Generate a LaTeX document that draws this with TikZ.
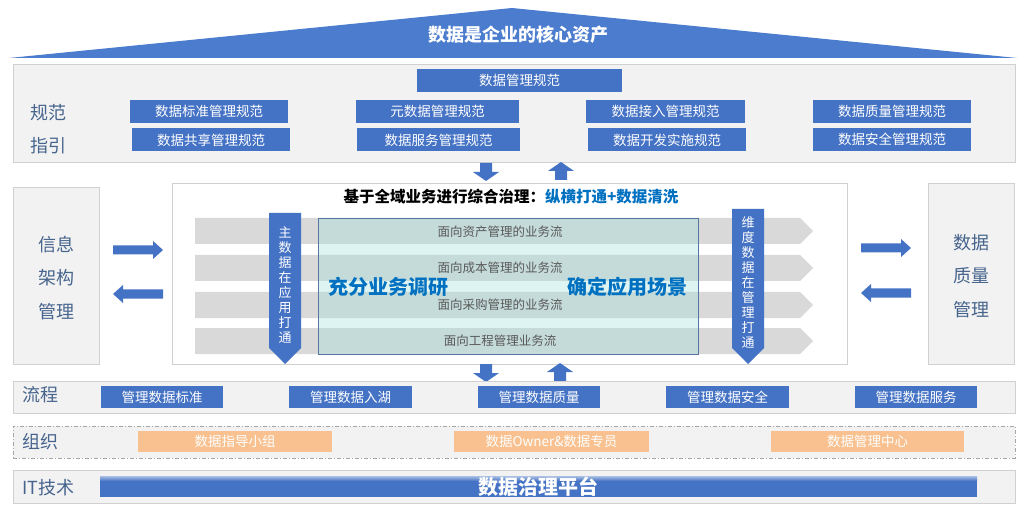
\documentclass[tikz,border=0pt]{standalone}
\usepackage{fontspec}
\setmainfont{Noto Sans CJK SC}
\usetikzlibrary{positioning,calc}

\definecolor{boxblue}{RGB}{68,114,196}
\definecolor{roofblue}{RGB}{75,124,206}
\definecolor{panelgray}{RGB}{242,242,242}
\definecolor{panelline}{RGB}{208,208,208}
\definecolor{lblblue}{RGB}{70,100,140}
\definecolor{orangebox}{RGB}{248,193,143}
\definecolor{titleblue}{RGB}{0,112,192}
\definecolor{flowgray}{RGB}{217,217,217}
\definecolor{flowtext}{RGB}{89,89,89}
\definecolor{tealfill}{RGB}{159,223,217}
\definecolor{tealline}{RGB}{84,118,160}

\tikzset{panel/.style={ % Gray bands and side boxes
            draw=panelline, line width=0.8pt,
            fill=panelgray},
        bluebox/.style={ % Blue rule and process boxes
            fill=boxblue, text=white, inner sep=0pt,
            minimum height=23,
            font=\fontsize{13.5}{16}\selectfont},
        orangebox/.style={ % Organisation boxes
            fill=orangebox, text=white, inner sep=0pt,
            minimum height=21,
            font=\fontsize{13.5}{16}\selectfont},
        lbl/.style={ % Row titles
            text=lblblue, inner sep=0pt,
            font=\fontsize{18}{33.5}\selectfont},
        flowlabel/.style={ % Text on the gray flows
            text=flowtext, inner sep=0pt,
            font=\fontsize{12.5}{15}\selectfont},
        bigblue/.style={ % Bold blue words over the flows
            text=titleblue, inner sep=0pt,
            font=\bfseries\fontsize{20}{24}\selectfont},
        vtext/.style={ % Text inside the vertical arrows
            text=white, inner sep=0pt, align=center,
            font=\fontsize{13}{15}\selectfont},
        sidearrow/.pic={ % Arrows between side boxes and centre
            \fill[boxblue] (-25,-4.5) -- (15,-4.5) -- (15,-9) -- (25,0)
                -- (15,9) -- (15,4.5) -- (-25,4.5) -- cycle;},
        stackarrow/.pic={ % Short arrows between the layers
            \fill[boxblue] (-9,-6) -- (0,-6) -- (0,-13) -- (9,0)
                -- (0,13) -- (0,6) -- (-9,6) -- cycle;}
        }

\begin{document}
\begin{tikzpicture}[x=1pt, y=-1pt]
    \useasboundingbox (0,0) rectangle (1024,510);

    % roof
    \fill[roofblue] (9,58) -- (512,8) -- (1017,58) -- cycle;
    \node[text=white, font=\bfseries\fontsize{18}{22}\selectfont] (roof) at (518,35) {数据是企业的核心资产};

    % rules
    \node[panel, minimum width=1002, minimum height=98] (rules) at (514,113) {};
    \node[lbl, align=center] (rulelbl) at (48,129) {规范\\指引};
    \node[bluebox, minimum width=205] (r0) at (519.5,80.5) {数据管理规范};
    \node[bluebox, minimum width=158] (r1) at (209,111.5) {数据标准管理规范};
    \node[bluebox, minimum width=158] (r2) at (211,140)   {数据共享管理规范};
    \node[bluebox, minimum width=163] (r3) at (437.5,111.5) {元数据管理规范};
    \node[bluebox, minimum width=163] (r4) at (438.5,140)   {数据服务管理规范};
    \node[bluebox, minimum width=159] (r5) at (665.5,111.5) {数据接入管理规范};
    \node[bluebox, minimum width=158] (r6) at (667,140)     {数据开发实施规范};
    \node[bluebox, minimum width=158] (r7) at (892,111.5)   {数据质量管理规范};
    \node[bluebox, minimum width=158] (r8) at (892,139.5)   {数据安全管理规范};

    \pic[rotate=-90] at (486,172) {stackarrow};
    \pic[rotate=90]  at (561,171) {stackarrow};

    % middle
    \node[panel, minimum width=86, minimum height=177] (info) at (56,275.5) {};
    \node[lbl, align=center] (infolbl) at (56,278) {信息\\架构\\管理};
    \node[panel, minimum width=86, minimum height=181] (qual) at (971,273.5) {};
    \node[lbl, align=center] (quallbl) at (971,276) {数据\\质量\\管理};
    \node[draw=panelline, line width=0.8pt, fill=white, minimum width=675, minimum height=181] (core) at (509.5,273.5) {};

    \pic at (138,250) {sidearrow};
    \pic[rotate=180] at (138,294) {sidearrow};
    \pic at (886,248) {sidearrow};
    \pic[rotate=180] at (886,293) {sidearrow};

    \node[font=\bfseries\fontsize{15.5}{18}\selectfont, inner sep=0pt] (title) at (511,197)
        {基于全域业务进行综合治理：\textcolor{titleblue}{纵横打通+数据清洗}};

    \foreach \y in {231,268,305,341}
        \fill[flowgray] (195,\y-13) -- (800,\y-13) -- (813,\y) -- (800,\y+13) -- (195,\y+13) -- cycle;

    \fill[tealfill, fill opacity=0.34] (318,219) rectangle (698,354);
    \draw[tealline, line width=1pt] (318,219) rectangle (698,354);

    \foreach \y/\t/\n in {232/面向资产管理的业务流/f1, 268/面向成本管理的业务流/f2,
                          305/面向采购管理的业务流/f3, 341/面向工程管理业务流/f4}
        \node[flowlabel] (\n) at (500,\y) {\t};

    \node[bigblue] (survey) at (388.5,287) {充分业务调研};
    \node[bigblue] (scene)  at (627.5,287) {确定应用场景};

    \fill[boxblue] (269,213) -- (301,213) -- (301,348) -- (285,364) -- (269,348) -- cycle;
    \node[vtext] (master) at (285,285) {主\\数\\据\\在\\应\\用\\打\\通};
    \fill[boxblue] (732,209) -- (764,209) -- (764,348) -- (748,364) -- (732,348) -- cycle;
    \node[vtext] (dim) at (748,283) {维\\度\\数\\据\\在\\管\\理\\打\\通};

    \pic[rotate=-90] at (486,373) {stackarrow};
    \pic[rotate=90]  at (560,372) {stackarrow};

    % process
    \node[panel, minimum width=1002, minimum height=32] (proc) at (514,397) {};
    \node[lbl] (proclbl) at (40,395) {流程};
    \node[bluebox, minimum width=122, minimum height=22] (p1) at (162,397)   {管理数据标准};
    \node[bluebox, minimum width=123, minimum height=22] (p2) at (350.5,397) {管理数据入湖};
    \node[bluebox, minimum width=122, minimum height=22] (p3) at (539,397)   {管理数据质量};
    \node[bluebox, minimum width=123, minimum height=22] (p4) at (727.5,397) {管理数据安全};
    \node[bluebox, minimum width=122, minimum height=22] (p5) at (916,397)   {管理数据服务};

    % organisation
    \node[panel, draw=gray!70, dash pattern=on 4pt off 2pt on 1pt off 2pt, minimum width=1002, minimum height=32] (org) at (514,442) {};
    \node[lbl] (orglbl) at (40,442) {组织};
    \node[orangebox, minimum width=194] (o1) at (235,441.5)   {数据指导小组};
    \node[orangebox, minimum width=195] (o2) at (551.5,441.5) {数据Owner\&数据专员};
    \node[orangebox, minimum width=193] (o3) at (867.5,441.5) {数据管理中心};

    % platform
    \node[panel, minimum width=1002, minimum height=33] (it) at (514,486.5) {};
    \node[lbl] (itlbl) at (48.5,488) {IT技术};
    \node[fill=boxblue, minimum width=877, minimum height=21, inner sep=0pt] (bar) at (538.5,486.5) {};
    \shade[top color=boxblue!45!white, bottom color=boxblue] (100,476) rectangle (977,481);
    \node[text=white, inner sep=0pt, font=\bfseries\fontsize{20}{24}\selectfont] (plat) at (538,487) {数据治理平台};
\end{tikzpicture}
\end{document}
